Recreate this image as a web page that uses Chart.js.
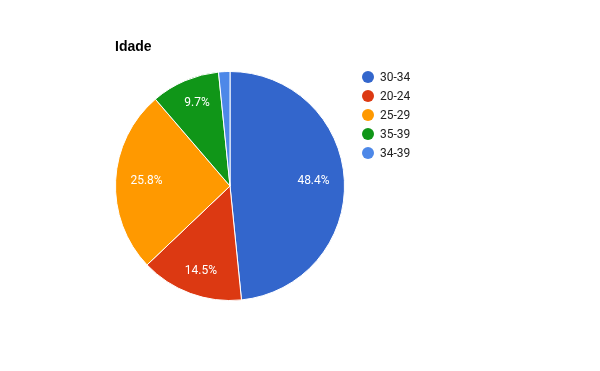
<!DOCTYPE html>
<html>
<head>
<meta charset="utf-8">
<script src="https://cdn.jsdelivr.net/npm/chart.js@4/dist/chart.umd.min.js"></script>
<style>
  html, body { margin: 0; padding: 0; background: #fff; }
  #wrap { width: 600px; height: 371px; position: relative; }
</style>
</head>
<body>
<div id="wrap"><canvas id="pie" width="600" height="371"></canvas></div>
<script>
// ---------- DATA ----------
const labels = ["30-34", "20-24", "25-29", "35-39", "34-39"];
const values = [48.4, 14.5, 25.8, 9.7, 1.6];
const colors = ["#3366cc", "#dc3912", "#ff9900", "#109618", "#4d88e8"];
const title = "Idade";

// ---------- TITLE + LEGEND + SLICE LABELS ----------
const extras = {
  id: "extras",
  afterDraw(chart) {
    const ctx = chart.ctx;
    ctx.save();
    // title
    ctx.fillStyle = "#000";
    ctx.font = "bold 14px 'Liberation Sans', Arial, sans-serif";
    ctx.textBaseline = "alphabetic";
    ctx.textAlign = "left";
    ctx.fillText(title, 115, 51);

    // legend
    ctx.font = "12px Roboto, sans-serif";
    ctx.textBaseline = "middle";
    labels.forEach((lab, i) => {
      const y = 77 + i * 19;
      ctx.beginPath();
      ctx.arc(368, y, 6, 0, Math.PI * 2);
      ctx.fillStyle = colors[i];
      ctx.fill();
      ctx.fillStyle = "#222";
      ctx.fillText(lab, 380, y + 0.5);
    });

    // slice labels (text kept inside the slice, a bit tighter sideways)
    const meta = chart.getDatasetMeta(0);
    ctx.fillStyle = "#fff";
    ctx.textAlign = "center";
    meta.data.forEach((arc, i) => {
      if (values[i] < 5) return;
      const mid = (arc.startAngle + arc.endAngle) / 2;
      const x = arc.x + Math.cos(mid) * arc.outerRadius * 0.73;
      const y = arc.y + Math.sin(mid) * arc.outerRadius * 0.79;
      ctx.fillText(values[i].toFixed(1) + "%", x, y);
    });
    ctx.restore();
  }
};

new Chart(document.getElementById("pie"), {
  type: "pie",
  data: {
    labels,
    datasets: [{
      data: values,
      backgroundColor: colors,
      borderColor: "#fff",
      borderWidth: 1,
    }],
  },
  options: {
    responsive: false,
    animation: false,
    devicePixelRatio: 1,
    layout: { padding: { left: 115, right: 255, top: 71, bottom: 70 } },
    plugins: {
      legend: { display: false },
      tooltip: { enabled: false },
    },
  },
  plugins: [extras],
});
</script>
</body>
</html>
